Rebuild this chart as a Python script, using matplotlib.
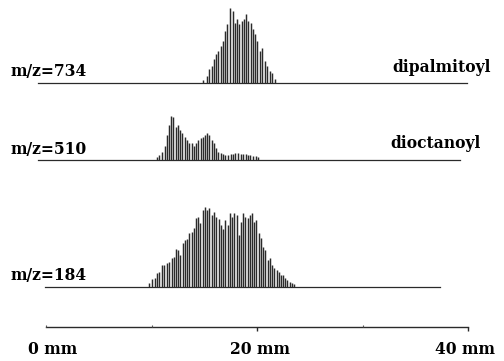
import matplotlib
matplotlib.use("Agg")
import matplotlib.pyplot as plt

# positions along the strip (mm) and ion intensities (arbitrary units)
pos_734 = [14.88, 15.23, 15.45, 15.71, 15.92, 16.11, 16.30, 16.56, 16.78, 16.97,
           17.16, 17.44, 17.70, 17.91, 18.10, 18.29, 18.55, 18.77, 18.96, 19.15,
           19.40, 19.59, 19.81, 20.00, 20.28, 20.47, 20.76, 20.95, 21.23, 21.42,
           21.71]
int_734 = [3, 7, 14, 17, 24, 29, 32, 37, 42, 52,
           59, 75, 72, 60, 64, 59, 62, 64, 69, 62,
           60, 54, 49, 42, 32, 35, 22, 17, 12, 10,
           4]

pos_510 = [10.49, 10.74, 11.00, 11.25, 11.44, 11.66, 11.85, 12.07, 12.29, 12.51,
           12.70, 12.92, 13.15, 13.34, 13.55, 13.81, 14.03, 14.25, 14.44, 14.66,
           14.85, 15.07, 15.29, 15.48, 15.71, 15.92, 16.11, 16.33, 16.56, 16.78,
           17.01, 17.25, 17.49, 17.73, 17.96, 18.20, 18.44, 18.67, 18.91, 19.15,
           19.38, 19.62, 19.86, 20.09]
int_510 = [3, 5, 8, 14, 25, 35, 44, 43, 33, 35,
           30, 27, 23, 20, 17, 17, 14, 17, 20, 22,
           23, 25, 27, 25, 20, 17, 12, 8, 7, 6,
           5, 5, 6, 6, 7, 7, 6, 6, 6, 5,
           5, 4, 4, 3]

pos_184 = [9.79, 10.05, 10.30, 10.55, 10.74, 11.00, 11.18, 11.44, 11.66, 11.91,
           12.10, 12.32, 12.54, 12.73, 12.96, 13.15, 13.36, 13.58, 13.81, 14.03,
           14.22, 14.44, 14.63, 14.85, 15.07, 15.29, 15.48, 15.71, 15.92, 16.14,
           16.37, 16.59, 16.81, 17.01, 17.22, 17.44, 17.63, 17.85, 18.06, 18.27,
           18.48, 18.67, 18.89, 19.10, 19.31, 19.53, 19.73, 19.95, 20.16, 20.38,
           20.57, 20.79, 21.00, 21.20, 21.42, 21.63, 21.85, 22.06, 22.27, 22.46,
           22.68, 22.89, 23.10, 23.32, 23.51]
int_184 = [4, 8, 9, 14, 15, 22, 22, 24, 25, 29,
           30, 38, 37, 32, 44, 47, 48, 54, 55, 59,
           69, 70, 64, 77, 80, 77, 79, 72, 75, 70,
           68, 62, 58, 67, 62, 74, 70, 74, 72, 52,
           65, 74, 70, 69, 72, 74, 65, 67, 54, 49,
           40, 37, 27, 29, 22, 19, 17, 15, 12, 12,
           9, 7, 5, 4, 3]

labels_left = ["m/z=734", "m/z=510", "m/z=184"]
labels_right = ["dipalmitoyl", "dioctanoyl"]
scale_labels = ["0 mm", "20 mm", "40 mm"]

# layout: baseline of each trace and its drawn extent in mm
offsets = [278, 201, 74]
spans = [(-0.76, 39.9), (-0.76, 39.2), (-0.1, 37.3)]

fig = plt.figure(figsize=(5.04, 3.61), dpi=100)
ax = fig.add_axes([0, 0, 1, 1])
ax.set_xlim(-46 / 10.55, (504 - 46) / 10.55)
ax.set_ylim(0, 361)
ax.axis("off")

ink = "#2b2b2b"
font = dict(family="DejaVu Serif", fontweight="bold", fontsize=11.2, color="black")

traces = [(pos_734, int_734), (pos_510, int_510), (pos_184, int_184)]
for (xs, ys), base, (x0, x1) in zip(traces, offsets, spans):
    ax.plot([x0, x1], [base, base], color="#2a2a2a", lw=0.9)
    ax.vlines(xs, base, [base + v for v in ys], color=ink, lw=1.05)

# trace labels
label_y = [289, 211, 85]
for txt, y in zip(labels_left, label_y):
    ax.text(-36 / 10.55, y, txt, ha="left", va="center", **font)
right_y = [293, 217]
right_x = [442, 436]
for txt, x, y in zip(labels_right, right_x, right_y):
    ax.text((x - 46) / 10.55, y, txt, ha="center", va="center", **font)

# mm scale bar at the bottom
ax.plot([0, 40], [34, 34], color="#2a2a2a", lw=1.0)
ax.vlines([20, 40], 30, 34, color="#2a2a2a", lw=1.0)
ax.vlines([0, 10, 30], 34, 36, color="#555555", lw=0.8)
label_x = [0.6, 20.3, 39.7]
for x, lab in zip(label_x, scale_labels):
    ax.text(x, 11, lab, ha="center", va="center", **font)

fig.savefig("out.png", dpi=100)
